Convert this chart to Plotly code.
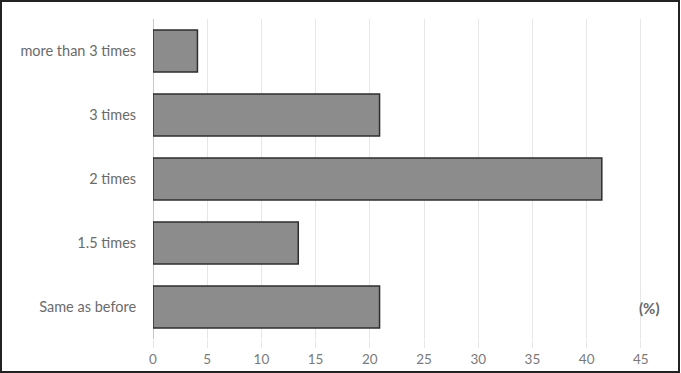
import plotly.graph_objects as go

categories = ["Same as before", "1.5 times", "2 times", "3 times", "more than 3 times"]
values = [20.9, 13.4, 41.4, 20.9, 4.1]
x_ticks = [0, 5, 10, 15, 20, 25, 30, 35, 40, 45]

W, H = 681, 373
ml, mr, mt, mb = 153, 38, 19, 34
pw, ph = W - ml - mr, H - mt - mb

fig = go.Figure(go.Bar(
    y=categories, x=values, orientation="h",
    marker=dict(color="#8c8c8c", line=dict(color="#2e2e2e", width=1.5)),
))

fig.update_layout(
    width=W, height=H,
    margin=dict(l=ml, r=mr, t=mt, b=mb, autoexpand=False),
    paper_bgcolor="white", plot_bgcolor="white",
    bargap=0.34,
    showlegend=False,
    font=dict(family="Lato", size=13, color="#6b6b6b"),
    xaxis=dict(range=[0, 45.2], tickvals=x_ticks, showgrid=True, gridcolor="#e6e6e6",
               zeroline=True, zerolinecolor="#c8c8c8", zerolinewidth=1,
               ticks="outside", ticklen=8, tickcolor="#e6e6e6", showline=False,
               automargin=False,
               tickfont=dict(size=13.5, color="#7a7a7a")),
    yaxis=dict(categoryorder="array", categoryarray=categories, range=[-0.5, 4.5],
               showgrid=False, ticks="outside", ticklen=13, tickcolor="rgba(0,0,0,0)",
               automargin=False,
               tickfont=dict(size=14.5, color="#6b6b6b")),
    annotations=[dict(text="<b>(%)</b>", xref="paper", yref="paper", x=(662 - ml) / pw, y=(H - mb - 308) / ph,
                      xanchor="right", yanchor="middle", showarrow=False,
                      font=dict(size=15, color="#666666"))],
    shapes=[dict(type="rect", xref="paper", yref="paper",
                 x0=(1 - ml) / pw, x1=(W - 2 - ml) / pw,
                 y0=-(mb - 1) / ph, y1=(ph + mt - 1) / ph,
                 line=dict(color="#222222", width=2), layer="above")],
)

fig.write_html("out.html")
